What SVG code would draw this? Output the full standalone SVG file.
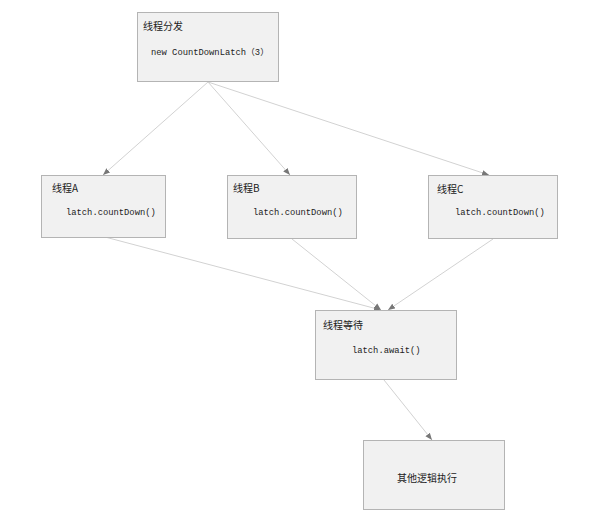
<svg xmlns="http://www.w3.org/2000/svg" width="609" height="524" viewBox="0 0 609 524">
<defs>
<style>
.box{fill:#f1f1f1;stroke:#b4b4b4;stroke-width:1}
.lbl{font-family:"Noto Sans CJK SC","Liberation Serif",serif;font-size:10px;fill:#222}
.code{font-family:"Liberation Mono","Noto Sans CJK SC",monospace;font-size:8.8px;fill:#222}
.cjk{font-family:"Noto Sans CJK SC",sans-serif}
.edge{stroke:#d2d2d2;stroke-width:1;fill:none;marker-end:url(#arr)}
</style>
<marker id="arr" viewBox="0 0 10 10" refX="10" refY="5" markerWidth="7" markerHeight="7" orient="auto" markerUnits="userSpaceOnUse">
<path d="M0,1 L10,5 L0,9 z" fill="#777"/>
</marker>
</defs>
<rect width="609" height="524" fill="#ffffff"/>
<g id="connectors">
<line class="edge" x1="208" y1="82" x2="103" y2="175"/>
<line class="edge" x1="208" y1="82" x2="290" y2="175"/>
<line class="edge" x1="208" y1="82" x2="489" y2="175"/>
<line class="edge" x1="105" y1="237" x2="381" y2="310"/>
<line class="edge" x1="292" y1="239" x2="381" y2="310"/>
<line class="edge" x1="493" y1="239" x2="388" y2="310"/>
<line class="edge" x1="384" y1="380" x2="432" y2="440"/>
</g>
<g id="node-dispatch">
<rect class="box" x="137.5" y="12.5" width="141" height="69"/>
<text class="lbl" x="143" y="30">线程分发</text>
<text class="code" x="151" y="55" font-size="8.4">new CountDownLatch<tspan class="cjk">（</tspan>3<tspan class="cjk">）</tspan></text>
</g>
<g id="node-a">
<rect class="box" x="41.5" y="175.5" width="124" height="62"/>
<text class="lbl" x="52" y="192">线程A</text>
<text class="code" x="66" y="215">latch.countDown()</text>
</g>
<g id="node-b">
<rect class="box" x="227.5" y="175.5" width="129" height="63"/>
<text class="lbl" x="233" y="192">线程B</text>
<text class="code" x="253" y="215">latch.countDown()</text>
</g>
<g id="node-c">
<rect class="box" x="428.5" y="175.5" width="129" height="63"/>
<text class="lbl" x="437" y="193">线程C</text>
<text class="code" x="455" y="215">latch.countDown()</text>
</g>
<g id="node-wait">
<rect class="box" x="315.5" y="310.5" width="141" height="69"/>
<text class="lbl" x="323" y="329">线程等待</text>
<text class="code" x="352" y="353">latch.await()</text>
</g>
<g id="node-other">
<rect class="box" x="363.5" y="440.5" width="141" height="69"/>
<text class="lbl" x="427" y="482" text-anchor="middle">其他逻辑执行</text>
</g>
</svg>
